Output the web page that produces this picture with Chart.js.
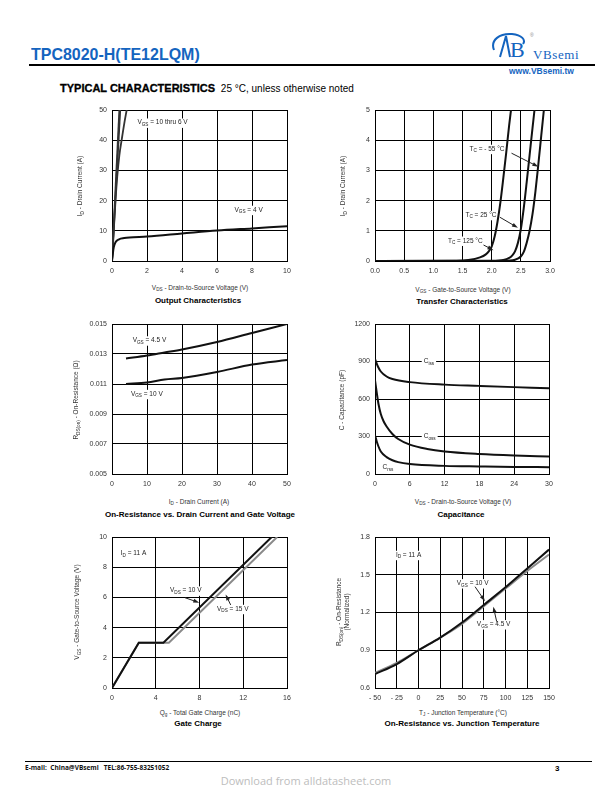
<!DOCTYPE html>
<html>
<head>
<meta charset="utf-8">
<script src="https://cdn.jsdelivr.net/npm/chart.js@4.4.0/dist/chart.umd.min.js"></script>
<style>
  body { margin: 0; background: #fff; font-family: "Liberation Sans", Arial, sans-serif; }
  #page { position: relative; width: 612px; height: 792px; overflow: hidden; }
  canvas { position: absolute; }
  .abs { position: absolute; white-space: nowrap; }
  .xt { font-size: 6.5px; color: #333; transform: translate(-50%, -50%); }
  .yt { font-size: 6.5px; color: #333; transform: translate(-50%, -50%) rotate(-90deg); text-align: center; line-height: 8px; }
  .cap { font-size: 8px; font-weight: bold; color: #000; transform: translate(-50%, -50%); }
  sub { font-size: 72%; vertical-align: -1.5px; line-height: 0; }
</style>
</head>
<body>
<div id="page">
  <div class="abs" style="left:31px;top:45px;font-size:17px;font-weight:bold;color:#1464bf;transform:scaleX(0.94);transform-origin:left top;">TPC8020-H(TE12LQM)</div>
  <div class="abs" style="left:29px;top:64px;width:566px;height:2px;background:#000;"></div>
  <svg class="abs" style="left:488px;top:30px;" width="50" height="32" viewBox="0 0 50 32">
    <path d="M6 20 C2 10 12 3 24 4 C34 5 38 10 35 14" fill="none" stroke="#1464bf" stroke-width="2"/>
    <path d="M12 27 L18 6 L22 27" fill="none" stroke="#1464bf" stroke-width="2"/>
    <text x="22" y="27" font-family="Liberation Serif, serif" font-size="22" fill="#1464bf">B</text>
    <text x="42" y="7" font-family="Liberation Sans" font-size="5" fill="#888">®</text>
  </svg>
  <div class="abs" style="left:533px;top:47px;font-family:'Liberation Serif',serif;font-size:13px;color:#1464bf;letter-spacing:0.6px;">VBsemi</div>
  <div class="abs" style="left:509px;top:66px;font-size:8.5px;font-weight:bold;color:#1464bf;">www.VBsemi.tw</div>

  <div class="abs" style="left:60px;top:82px;font-size:11px;font-weight:bold;color:#000;-webkit-text-stroke:0.3px #000;">TYPICAL CHARACTERISTICS <span style="font-weight:normal;-webkit-text-stroke:0;font-size:10px;">&nbsp;25 °C, unless otherwise noted</span></div>

  <canvas id="c1"></canvas>
  <canvas id="c2"></canvas>
  <canvas id="c3"></canvas>
  <canvas id="c4"></canvas>
  <canvas id="c5"></canvas>
  <canvas id="c6"></canvas>

  <div class="abs yt" style="left:80px;top:186px;">I<sub>D</sub> - Drain Current (A)</div>
  <div class="abs xt" style="left:200px;top:287px;">V<sub>DS</sub> - Drain-to-Source Voltage (V)</div>
  <div class="abs cap" style="left:198px;top:300px;">Output Characteristics</div>

  <div class="abs yt" style="left:343px;top:186px;">I<sub>D</sub> - Drain Current (A)</div>
  <div class="abs xt" style="left:463px;top:289px;">V<sub>GS</sub> - Gate-to-Source Voltage (V)</div>
  <div class="abs cap" style="left:462px;top:301px;">Transfer Characteristics</div>

  <div class="abs yt" style="left:76px;top:400px;">R<sub>DS(on)</sub> - On-Resistance (Ω)</div>
  <div class="abs xt" style="left:199px;top:501px;">I<sub>D</sub> - Drain Current (A)</div>
  <div class="abs cap" style="left:200px;top:514px;">On-Resistance vs. Drain Current and Gate Voltage</div>

  <div class="abs yt" style="left:342px;top:400px;">C - Capacitance (pF)</div>
  <div class="abs xt" style="left:463px;top:501px;">V<sub>DS</sub> - Drain-to-Source Voltage (V)</div>
  <div class="abs cap" style="left:461px;top:514px;">Capacitance</div>

  <div class="abs yt" style="left:77px;top:612px;">V<sub>GS</sub> - Gate-to-Source Voltage (V)</div>
  <div class="abs xt" style="left:200px;top:712px;">Q<sub>g</sub> - Total Gate Charge (nC)</div>
  <div class="abs cap" style="left:198px;top:723px;">Gate Charge</div>

  <div class="abs yt" style="left:343px;top:612px;">R<sub>DS(on)</sub> - On-Resistance<br>(Normalized)</div>
  <div class="abs xt" style="left:463px;top:712px;">T<sub>J</sub> - Junction Temperature (°C)</div>
  <div class="abs cap" style="left:462px;top:723px;">On-Resistance vs. Junction Temperature</div>

  <div class="abs" style="left:25px;top:761px;width:567px;height:1px;background:#000;"></div>
  <div class="abs" style="left:25px;top:763px;font-family:'Open Sans',sans-serif;font-size:6.5px;font-weight:bold;color:#111;">E-mail:&nbsp; China@VBsemi&nbsp;&nbsp; TEL:86-755-83251052</div>
  <div class="abs" style="left:555px;top:764px;font-size:8px;font-weight:bold;color:#000;">3</div>
  <div class="abs" style="left:306px;top:780px;font-family:'Open Sans',sans-serif;font-size:11px;color:#bdbdbd;transform:translate(-50%,-50%);">Download from alldatasheet.com</div>
</div>

<script>
// ---- tick values / labels ----
const outX = [0, 2, 4, 6, 8, 10];
const outY = [0, 10, 20, 30, 40, 50];
const trX = [0, 0.5, 1.0, 1.5, 2.0, 2.5, 3.0];
const trXLabels = ['0.0', '0.5', '1.0', '1.5', '2.0', '2.5', '3.0'];
const trY = [0, 1, 2, 3, 4, 5];
const rdsX = [0, 10, 20, 30, 40, 50];
const rdsY = [0.005, 0.007, 0.009, 0.011, 0.013, 0.015];
const rdsYLabels = ['0.005', '0.007', '0.009', '0.011', '0.013', '0.015'];
const capX = [0, 6, 12, 18, 24, 30];
const capY = [0, 300, 600, 900, 1200];
const gcX = [0, 4, 8, 12, 16];
const gcY = [0, 2, 4, 6, 8, 10];
const tjX = [-50, -25, 0, 25, 50, 75, 100, 125, 150];
const tjXLabels = ['- 50', '- 25', '0', '25', '50', '75', '100', '125', '150'];
const tjY = [0.6, 0.9, 1.2, 1.5, 1.8];
const tjYLabels = ['0.6', '0.9', '1.2', '1.5', '1.8'];

// ---- output characteristics ----
const vgs10aX = [0, 0.42];
const vgs10aY = [0, 50];
const vgs10bX = [0, 0.47];
const vgs10bY = [0, 50];
const vgs6X = [0, 0.1, 0.2, 0.3, 0.42, 0.55, 0.7, 0.84];
const vgs6Y = [0, 10, 20, 28, 35, 40, 45.5, 50];
const vgs4X = [0, 0.05, 0.1, 0.2, 0.4, 0.7, 1, 2, 4, 6, 8, 10];
const vgs4Y = [0, 2.5, 4.5, 6.2, 7.2, 7.6, 7.8, 8.1, 9.1, 10.1, 10.8, 11.5];

// ---- transfer characteristics ----
const t125X = [0, 1.4, 1.6, 1.8, 1.9, 1.95, 2.0, 2.05, 2.1, 2.15, 2.2, 2.25, 2.3, 2.335];
const t125Y = [0, 0.005, 0.03, 0.12, 0.22, 0.32, 0.48, 0.8, 1.3, 1.95, 2.75, 3.6, 4.5, 5.05];
const t25X = [0, 2.0, 2.2, 2.3, 2.35, 2.4, 2.45, 2.5, 2.55, 2.6, 2.65, 2.7, 2.74];
const t25Y = [0, 0.005, 0.03, 0.1, 0.18, 0.32, 0.6, 1.05, 1.75, 2.6, 3.5, 4.4, 5.1];
const tm55X = [0, 2.2, 2.4, 2.5, 2.55, 2.6, 2.65, 2.7, 2.75, 2.8, 2.85, 2.9];
const tm55Y = [0, 0.003, 0.04, 0.15, 0.3, 0.6, 1.0, 1.55, 2.3, 3.2, 4.15, 5.1];

// ---- on-resistance vs drain current ----
const rdsId = [4, 10, 15, 20, 30, 40, 50];
const rds45 = [0.0127, 0.0129, 0.0131, 0.0133, 0.0138, 0.0144, 0.0150];
const rds10 = [0.0110, 0.0111, 0.0113, 0.0114, 0.0118, 0.0123, 0.0126];

// ---- capacitance ----
const cissV = [0, 0.5, 1, 2, 3, 6, 12, 18, 24, 30];
const ciss = [920, 860, 820, 780, 760, 735, 715, 705, 695, 685];
const cossV = [0, 0.3, 0.6, 1, 1.5, 2, 3, 4, 6, 9, 12, 18, 24, 30];
const coss = [750, 650, 560, 480, 420, 380, 320, 280, 235, 200, 180, 160, 148, 140];
const crssV = [0, 0.3, 0.6, 1, 2, 3, 4, 6, 12, 18, 24, 30];
const crss = [310, 260, 220, 180, 135, 110, 95, 80, 65, 60, 56, 55];

// ---- gate charge ----
const gc10Q = [0, 2.45, 4.7, 14.6];
const gc10V = [0, 3, 3, 10];
const gc15Q = [0, 2.45, 5.2, 15.1];
const gc15V = [0, 3, 3, 10];

// ---- on-resistance vs junction temperature ----
const tjT = [-50, -25, 0, 25, 50, 75, 100, 125, 150];
const rn10 = [0.71, 0.79, 0.90, 1.00, 1.12, 1.26, 1.40, 1.55, 1.70];
const rn45 = [0.72, 0.80, 0.90, 1.00, 1.11, 1.25, 1.39, 1.53, 1.66];

const FONT = '"Liberation Sans", Arial, sans-serif';

function pts(xs, ys) {
  return xs.map((x, i) => ({ x: x, y: ys[i] }));
}

function richParts(s) {
  const parts = [];
  const re = /_\{([^}]*)\}/g;
  let last = 0, m;
  while ((m = re.exec(s))) {
    if (m.index > last) parts.push([s.slice(last, m.index), false]);
    parts.push([m[1], true]);
    last = re.lastIndex;
  }
  if (last < s.length) parts.push([s.slice(last), false]);
  return parts;
}

function drawRich(ctx, s, x, y, size) {
  const parts = richParts(s);
  const main = size + 'px ' + FONT, sub = (size * 0.72) + 'px ' + FONT;
  let w = 0;
  parts.forEach(p => { ctx.font = p[1] ? sub : main; w += ctx.measureText(p[0]).width; });
  ctx.fillStyle = '#fff';
  ctx.fillRect(x - 2, y - size * 0.65, w + 4, size * 1.45);
  ctx.fillStyle = '#222';
  ctx.textBaseline = 'middle';
  ctx.textAlign = 'left';
  let cx = x;
  parts.forEach(p => {
    ctx.font = p[1] ? sub : main;
    ctx.fillText(p[0], cx, p[1] ? y + size * 0.3 : y);
    cx += ctx.measureText(p[0]).width;
  });
}

function drawArrow(ctx, x1, y1, x2, y2) {
  const a = Math.atan2(y2 - y1, x2 - x1);
  ctx.save();
  ctx.strokeStyle = '#222';
  ctx.fillStyle = '#222';
  ctx.lineWidth = 1;
  ctx.beginPath();
  ctx.moveTo(x1, y1);
  ctx.lineTo(x2 - 4 * Math.cos(a), y2 - 4 * Math.sin(a));
  ctx.stroke();
  ctx.beginPath();
  ctx.moveTo(x2, y2);
  ctx.lineTo(x2 - 6 * Math.cos(a) + 2 * Math.sin(a), y2 - 6 * Math.sin(a) - 2 * Math.cos(a));
  ctx.lineTo(x2 - 6 * Math.cos(a) - 2 * Math.sin(a), y2 - 6 * Math.sin(a) + 2 * Math.cos(a));
  ctx.closePath();
  ctx.fill();
  ctx.restore();
}

const notes = {
  id: 'notes',
  beforeDatasetsDraw(chart, args, opts) {
    const { ctx, scales: { x, y } } = chart;
    (opts.labels || []).forEach(l => {
      drawRich(ctx, l[0], x.getPixelForValue(l[1]), y.getPixelForValue(l[2]), 6.5);
    });
  },
  afterDatasetsDraw(chart, args, opts) {
    const { ctx, scales: { x, y } } = chart;
    (opts.arrows || []).forEach(a => {
      drawArrow(ctx, x.getPixelForValue(a[0]), y.getPixelForValue(a[1]),
        x.getPixelForValue(a[2]), y.getPixelForValue(a[3]));
    });
  }
};

function axis(min, max, ticks, labels, isX) {
  return {
    type: 'linear',
    position: isX ? 'bottom' : 'left',
    min: min,
    max: max,
    afterBuildTicks: s => { s.ticks = ticks.map(v => ({ value: v })); },
    afterFit: s => {
      if (isX) { s.height = 20; s.paddingLeft = 0; s.paddingRight = 0; }
      else { s.width = 40; s.paddingTop = 0; s.paddingBottom = 0; }
    },
    grid: { color: '#000', lineWidth: 1, drawTicks: false },
    border: { color: '#000', width: 1 },
    ticks: {
      autoSkip: false,
      maxRotation: 0,
      padding: isX ? 6 : 5,
      color: '#333',
      font: { family: FONT, size: 7 },
      callback: (v, i) => labels ? labels[i] : v
    }
  };
}

// first dataset in the list is painted on top
function line(data, color, width, tension) {
  return {
    data: data,
    borderColor: color,
    borderWidth: width,
    pointRadius: 0,
    fill: false,
    cubicInterpolationMode: tension ? 'monotone' : 'default',
    tension: 0
  };
}

function makeChart(id, plot, datasets, xs, ys, noteOpts) {
  const cv = document.getElementById(id);
  cv.width = plot.w + 54;
  cv.height = plot.h + 26;
  cv.style.left = (plot.l - 40) + 'px';
  cv.style.top = (plot.t - 6) + 'px';
  return new Chart(cv, {
    type: 'line',
    data: { datasets: datasets },
    options: {
      responsive: false,
      animation: false,
      layout: { padding: { top: 6, right: 14, left: 0, bottom: 0 } },
      scales: { x: xs, y: ys },
      plugins: { legend: { display: false }, tooltip: { enabled: false }, notes: noteOpts }
    },
    plugins: [notes]
  });
}

makeChart('c1', { l: 112, t: 110, w: 175, h: 151 }, [
  line(pts(vgs4X, vgs4Y), '#111', 2, true),
  line(pts(vgs10aX, vgs10aY), '#333', 1.8, false),
  line(pts(vgs10bX, vgs10bY), '#333', 1.8, false),
  line(pts(vgs6X, vgs6Y), '#333', 1.8, true)
], axis(0, 10, outX, null, true), axis(0, 50, outY, null, false), {
  labels: [['V_{GS} = 10 thru 6 V', 1.45, 45.8], ['V_{GS} = 4 V', 7.0, 16.9]]
});

makeChart('c2', { l: 375, t: 110, w: 175, h: 151 }, [
  line(pts(t125X, t125Y), '#111', 2, true),
  line(pts(t25X, t25Y), '#111', 2, true),
  line(pts(tm55X, tm55Y), '#111', 2, true)
], axis(0, 3, trX, trXLabels, true), axis(0, 5, trY, null, false), {
  labels: [['T_{C} = - 55 °C', 1.62, 3.71], ['T_{C} = 25 °C', 1.55, 1.52], ['T_{C} = 125 °C', 1.25, 0.67]],
  arrows: [[2.34, 3.57, 2.80, 3.12], [2.14, 1.45, 2.45, 1.10], [1.86, 0.53, 2.03, 0.36]]
});

makeChart('c3', { l: 112, t: 324, w: 175, h: 150 }, [
  line(pts(rdsId, rds45), '#111', 2, true),
  line(pts(rdsId, rds10), '#111', 2, true)
], axis(0, 50, rdsX, null, true), axis(0.005, 0.015, rdsY, rdsYLabels, false), {
  labels: [['V_{GS} = 4.5 V', 5.9, 0.0139], ['V_{GS} = 10 V', 5.4, 0.01033]]
});

makeChart('c4', { l: 375, t: 324, w: 174, h: 150 }, [
  line(pts(cissV, ciss), '#111', 2, true),
  line(pts(cossV, coss), '#111', 2, true),
  line(pts(crssV, crss), '#111', 2, true)
], axis(0, 30, capX, null, true), axis(0, 1200, capY, null, false), {
  labels: [['C_{iss}', 8.4, 900], ['C_{oss}', 8.4, 300], ['C_{rss}', 1.3, 52]]
});

makeChart('c5', { l: 112, t: 537, w: 175, h: 151 }, [
  line(pts(gc10Q, gc10V), '#111', 2, false),
  line(pts(gc15Q, gc15V), '#8a8a8a', 2, false)
], axis(0, 16, gcX, null, true), axis(0, 10, gcY, null, false), {
  labels: [['I_{D} = 11 A', 0.8, 8.9], ['V_{DS} = 10 V', 5.3, 6.45], ['V_{DS} = 15 V', 9.6, 5.23]],
  arrows: [[6.67, 5.98, 7.98, 5.65], [10.85, 5.5, 10.39, 6.2]]
});

makeChart('c6', { l: 375, t: 537, w: 174, h: 151 }, [
  line(pts(tjT, rn10), '#111', 2, true),
  line(pts(tjT, rn45), '#8a8a8a', 2, true)
], axis(-50, 150, tjX, tjXLabels, true), axis(0.6, 1.8, tjY, tjYLabels, false), {
  labels: [['I_{D} = 11 A', -26, 1.657], ['V_{GS} = 10 V', 44, 1.432], ['V_{GS} = 4.5 V', 67, 1.106]],
  arrows: [[65, 1.405, 76.4, 1.29], [89.9, 1.127, 86, 1.246]]
});
</script>
</body>
</html>
